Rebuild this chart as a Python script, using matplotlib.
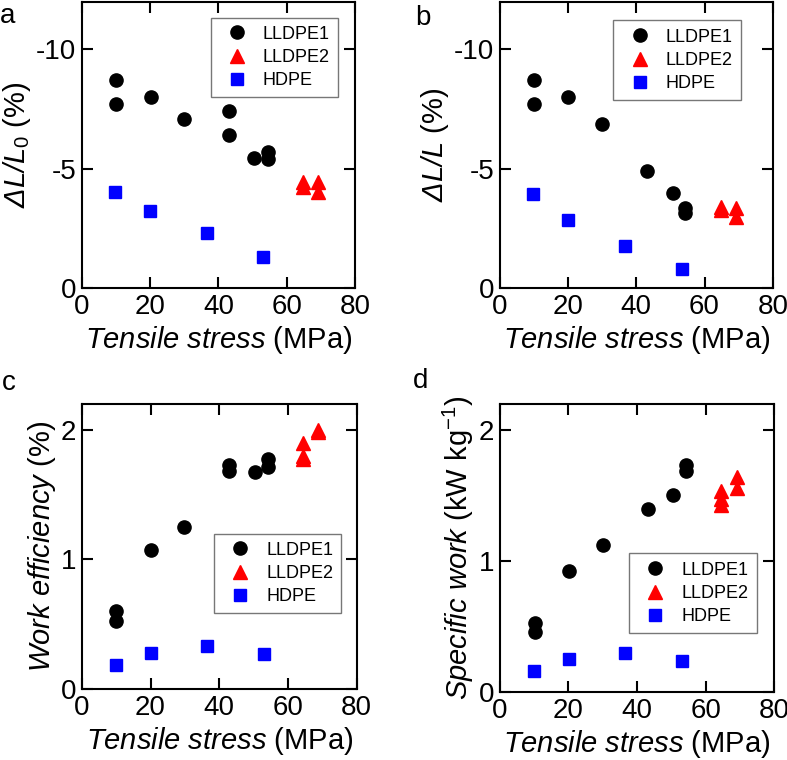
import matplotlib
matplotlib.use("Agg")
import matplotlib.pyplot as plt

plt.rcParams['font.family'] = ['Liberation Sans', 'DejaVu Sans']
plt.rcParams['mathtext.fontset'] = 'custom'
# italic "rm" so that the Greek Delta comes out slanted too
plt.rcParams['mathtext.rm'] = 'Liberation Sans:italic'
plt.rcParams['mathtext.it'] = 'Liberation Sans:italic'
plt.rcParams['mathtext.sf'] = 'Liberation Sans'
plt.rcParams['axes.unicode_minus'] = False

# panel a: dL/L0 (%)
a_l1_x = [10.0, 10.0, 20.2, 30.0, 43.2, 43.2, 50.5, 54.4, 54.4]
a_l1_y = [-8.70, -7.69, -8.01, -7.08, -7.41, -6.41, -5.43, -5.71, -5.39]
a_l2_x = [64.9, 64.9, 69.3, 69.3]
a_l2_y = [-4.46, -4.25, -4.46, -4.04]
a_hd_x = [9.8, 20.0, 36.6, 53.2]
a_hd_y = [-4.03, -3.22, -2.31, -1.28]

# panel b: dL/L (%)
b_l1_x = [10.0, 10.0, 20.1, 29.9, 43.1, 50.9, 54.3, 54.3]
b_l1_y = [-8.70, -7.69, -8.01, -6.89, -4.90, -4.00, -3.34, -3.13]
b_l2_x = [64.8, 64.8, 69.2, 69.2]
b_l2_y = [-3.41, -3.25, -3.34, -2.99]
b_hd_x = [9.8, 20.0, 36.7, 53.3]
b_hd_y = [-3.94, -2.87, -1.77, -0.81]

# panel c: work efficiency (%)
c_l1_x = [9.9, 9.9, 20.1, 29.8, 42.9, 42.9, 50.5, 54.1, 54.1]
c_l1_y = [0.60, 0.525, 1.07, 1.25, 1.73, 1.68, 1.67, 1.77, 1.71]
c_l2_x = [64.5, 64.5, 64.5, 68.9, 68.9]
c_l2_y = [1.90, 1.80, 1.77, 2.00, 1.98]
c_hd_x = [9.9, 20.0, 36.5, 53.0]
c_hd_y = [0.184, 0.282, 0.335, 0.271]

# panel d: specific work (kW/kg)
d_l1_x = [10.2, 10.2, 20.2, 30.1, 43.1, 50.6, 54.3, 54.3]
d_l1_y = [0.525, 0.457, 0.921, 1.12, 1.40, 1.50, 1.73, 1.69]
d_l2_x = [64.5, 64.5, 64.5, 69.1, 69.1]
d_l2_y = [1.535, 1.47, 1.43, 1.64, 1.56]
d_hd_x = [10.1, 20.1, 36.6, 53.1]
d_hd_y = [0.165, 0.254, 0.297, 0.236]

labels = ["LLDPE1", "LLDPE2", "HDPE"]

fig = plt.figure(figsize=(7.87, 7.6), dpi=100)
ax_a = fig.add_axes([0.104, 0.621, 0.347, 0.377])
ax_b = fig.add_axes([0.635, 0.621, 0.347, 0.377])
ax_c = fig.add_axes([0.104, 0.093, 0.349, 0.376])
ax_d = fig.add_axes([0.635, 0.089, 0.349, 0.380])


def draw(ax, l1x, l1y, l2x, l2y, hdx, hdy):
    ax.plot(l1x, l1y, 'o', color='black', ms=9.5, mec='black', label=labels[0])
    ax.plot(l2x, l2y, '^', color='red', ms=10.5, mec='red', label=labels[1])
    ax.plot(hdx, hdy, 's', color='blue', ms=8, mec='blue', label=labels[2])
    ax.set_xlim(0, 80)
    ax.set_xticks([0, 20, 40, 60, 80])
    ax.tick_params(direction='in', top=True, right=True, length=8, width=1.5,
                   labelsize=20, pad=4)
    for s in ax.spines.values():
        s.set_linewidth(1.5)
    ax.set_xlabel(r"$\mathit{Tensile\ stress}$ (MPa)", fontsize=21, labelpad=3)


draw(ax_a, a_l1_x, a_l1_y, a_l2_x, a_l2_y, a_hd_x, a_hd_y)
draw(ax_b, b_l1_x, b_l1_y, b_l2_x, b_l2_y, b_hd_x, b_hd_y)
draw(ax_c, c_l1_x, c_l1_y, c_l2_x, c_l2_y, c_hd_x, c_hd_y)
draw(ax_d, d_l1_x, d_l1_y, d_l2_x, d_l2_y, d_hd_x, d_hd_y)

for ax in (ax_a, ax_b):
    ax.set_ylim(0, -12)
    ax.set_yticks([0, -5, -10])
    ax.set_yticklabels(["0", "-5", "-10"])
for ax in (ax_c, ax_d):
    ax.set_ylim(0, 2.2)
    ax.set_yticks([0, 1, 2])
    ax.set_yticklabels(["0", "1", "2"])

ax_a.set_ylabel(r"$ΔL/L_{\mathsf{0}}$ (%)", fontsize=21, labelpad=2)
ax_b.set_ylabel(r"$ΔL/L$ (%)", fontsize=21, labelpad=2)
ax_c.set_ylabel(r"$\mathit{Work\ efficiency}$ (%)", fontsize=21, labelpad=2)
ax_d.set_ylabel(r"$\mathit{Specific\ work}$ (kW kg$^{\mathsf{-1}}$)", fontsize=21, labelpad=2)

leg_kw = dict(loc='upper right', fontsize=13, frameon=True, fancybox=False,
              edgecolor='#555555', handlelength=2.0, handletextpad=0.45,
              borderpad=0.45, labelspacing=0.35, borderaxespad=0)
for ax, anchor in ((ax_a, (0.938, 0.944)), (ax_b, (0.883, 0.934)),
                   (ax_c, (0.945, 0.545)), (ax_d, (0.935, 0.481))):
    lg = ax.legend(bbox_to_anchor=anchor, **leg_kw)
    lg.get_frame().set_linewidth(1.0)

fig.text(0.0, 1 - 23 / 760, "a", fontsize=20, va='baseline', ha='left')
fig.text(415 / 787, 1 - 25 / 760, "b", fontsize=20, va='baseline', ha='left')
fig.text(2 / 787, 1 - 390 / 760, "c", fontsize=20, va='baseline', ha='left')
fig.text(413 / 787, 1 - 388 / 760, "d", fontsize=20, va='baseline', ha='left')

fig.savefig("out.png", dpi=100)
